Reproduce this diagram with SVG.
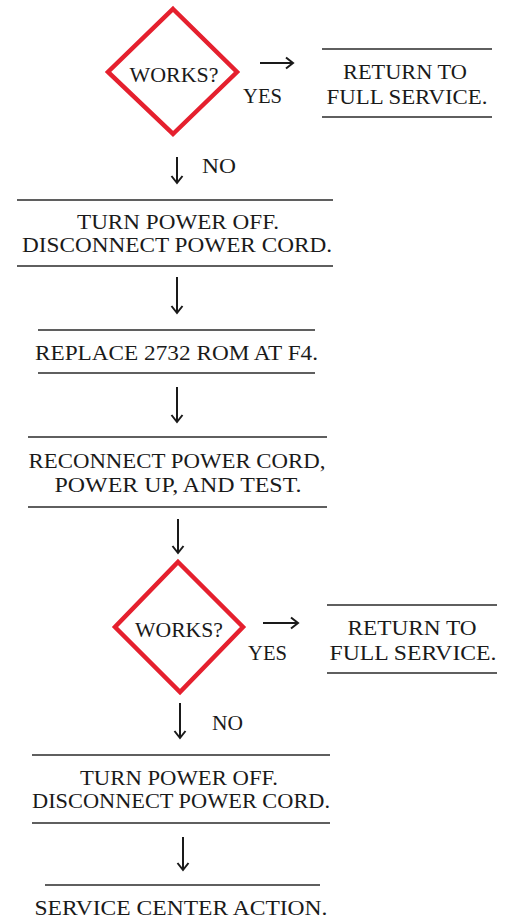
<svg xmlns="http://www.w3.org/2000/svg" width="508" height="924" viewBox="0 0 508 924">
<style>
  text { font-family: "Liberation Serif", "Times New Roman", serif; font-size: 21px; fill: #1a1a1a; text-anchor: middle; }
  .rule { stroke: #2a2a2a; stroke-width: 1.6; fill: none; }
  .dia { fill: #ffffff; stroke: #e5202e; stroke-width: 4.5; stroke-linejoin: miter; }
  .arr { stroke: #1a1a1a; stroke-width: 2; fill: none; marker-end: url(#head); }
</style>
<defs>
  <marker id="head" markerUnits="userSpaceOnUse" markerWidth="14" markerHeight="14" refX="9" refY="7" orient="auto">
    <path d="M2,1.5 L9,7 L2,12.5" fill="none" stroke="#1a1a1a" stroke-width="2" stroke-linejoin="miter"/>
  </marker>
</defs>
<rect width="508" height="924" fill="#ffffff"/>

<g id="decision1">
  <polygon class="dia" points="173,9 237,72 173,134 108,72"/>
  <text x="174" y="82" textLength="89" lengthAdjust="spacingAndGlyphs">WORKS?</text>
</g>
<g id="return1">
  <line class="rule" x1="322" y1="49" x2="492" y2="49"/>
  <text x="405" y="79" textLength="124" lengthAdjust="spacingAndGlyphs">RETURN TO</text>
  <text x="407" y="104" textLength="161" lengthAdjust="spacingAndGlyphs">FULL SERVICE.</text>
  <line class="rule" x1="322" y1="117" x2="492" y2="117"/>
</g>
<g id="step1">
  <line class="rule" x1="17" y1="200" x2="333" y2="200"/>
  <text x="178" y="229" textLength="202" lengthAdjust="spacingAndGlyphs">TURN POWER OFF.</text>
  <text x="177" y="252" textLength="310" lengthAdjust="spacingAndGlyphs">DISCONNECT POWER CORD.</text>
  <line class="rule" x1="17" y1="266" x2="333" y2="266"/>
</g>
<g id="step2">
  <line class="rule" x1="38" y1="330" x2="315" y2="330"/>
  <text x="176.5" y="360" textLength="283" lengthAdjust="spacingAndGlyphs">REPLACE 2732 ROM AT F4.</text>
  <line class="rule" x1="38" y1="373" x2="315" y2="373"/>
</g>
<g id="step3">
  <line class="rule" x1="28" y1="437" x2="327" y2="437"/>
  <text x="177" y="468" textLength="297" lengthAdjust="spacingAndGlyphs">RECONNECT POWER CORD,</text>
  <text x="178" y="492" textLength="247" lengthAdjust="spacingAndGlyphs">POWER UP, AND TEST.</text>
  <line class="rule" x1="28" y1="507" x2="327" y2="507"/>
</g>
<g id="decision2">
  <polygon class="dia" points="178,562 243,627 180,692 115,627"/>
  <text x="179" y="637" textLength="88" lengthAdjust="spacingAndGlyphs">WORKS?</text>
</g>
<g id="return2">
  <line class="rule" x1="327" y1="605" x2="497" y2="605"/>
  <text x="412" y="635" textLength="129" lengthAdjust="spacingAndGlyphs">RETURN TO</text>
  <text x="413" y="660" textLength="167" lengthAdjust="spacingAndGlyphs">FULL SERVICE.</text>
  <line class="rule" x1="327" y1="673" x2="497" y2="673"/>
</g>
<g id="step4">
  <line class="rule" x1="32" y1="755" x2="330" y2="755"/>
  <text x="179" y="785" textLength="198" lengthAdjust="spacingAndGlyphs">TURN POWER OFF.</text>
  <text x="181" y="808" textLength="298" lengthAdjust="spacingAndGlyphs">DISCONNECT POWER CORD.</text>
  <line class="rule" x1="32" y1="823" x2="330" y2="823"/>
</g>
<g id="step5">
  <line class="rule" x1="45" y1="885" x2="320" y2="885"/>
  <text x="181" y="915" textLength="293" lengthAdjust="spacingAndGlyphs">SERVICE CENTER ACTION.</text>
</g>

<g id="connectors">
  <line class="arr" x1="260" y1="63" x2="293" y2="63"/>
  <text x="262.5" y="103" textLength="39" lengthAdjust="spacingAndGlyphs">YES</text>
  <line class="arr" x1="177" y1="157" x2="177" y2="183"/>
  <text x="219" y="173" textLength="34" lengthAdjust="spacingAndGlyphs">NO</text>
  <line class="arr" x1="177" y1="277" x2="177" y2="313"/>
  <line class="arr" x1="177" y1="387" x2="177" y2="422"/>
  <line class="arr" x1="178" y1="519" x2="178" y2="553"/>
  <line class="arr" x1="263" y1="623" x2="298" y2="623"/>
  <text x="267.5" y="660" textLength="39" lengthAdjust="spacingAndGlyphs">YES</text>
  <line class="arr" x1="180" y1="703" x2="180" y2="738"/>
  <text x="227.5" y="730" textLength="31" lengthAdjust="spacingAndGlyphs">NO</text>
  <line class="arr" x1="183" y1="837" x2="183" y2="870"/>
</g>
</svg>
